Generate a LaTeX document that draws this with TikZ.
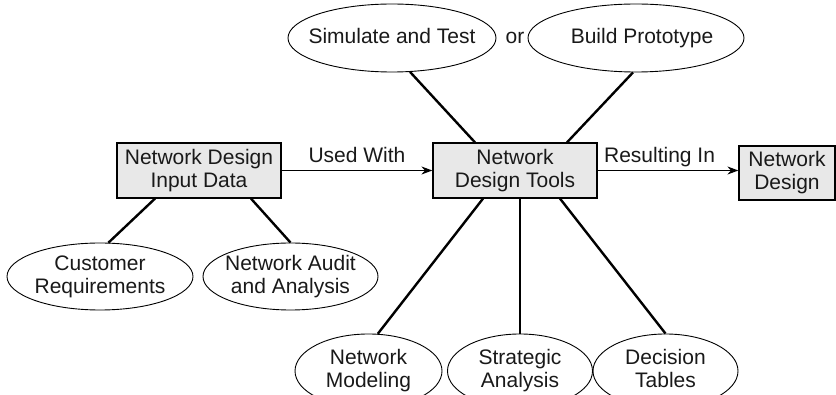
\documentclass[tikz,border=0pt]{standalone}
\usepackage{fontspec}
\setmainfont{Liberation Sans}
\usetikzlibrary{shapes.geometric,arrows.meta}
\begin{document}
\begin{tikzpicture}[x=1pt,y=-1pt,
  every node/.style={font=\fontsize{21}{23}\selectfont, text=black!90},
  box/.style={draw, line width=1.2pt, fill=gray!18, inner sep=0pt, align=center},
  oval/.style={draw, ellipse, line width=0.9pt, inner sep=0pt},
  txt/.style={align=center, text depth=4.5pt},
  link/.style={line width=2.4pt},
  flow/.style={line width=1.4pt, -{Stealth[length=11pt,width=8pt]}},
  lbl/.style={anchor=base, yshift=8pt, inner sep=0pt}]
\useasboundingbox (0,0) rectangle (836,395);

% boxes
\node[box, minimum width=164pt, minimum height=55pt] (inp) at (199,170.5) {Network Design\\Input Data};
\node[box, minimum width=164pt, minimum height=55pt] (tools) at (515,170.5) {Network\\Design Tools};
\node[box, minimum width=96pt, minimum height=54pt] (net) at (787,173) {Network\\Design};

% top ellipses
\node[oval, minimum width=208pt, minimum height=68pt, label={[txt]center:Simulate and Test}] (sim) at (392,38) {};
\node (or) at (515,38) {or};
\node[oval, minimum width=216pt, minimum height=68pt, label={[txt, xshift=6pt]center:Build Prototype}] (proto) at (636,38) {};

% left ellipses
\node[oval, minimum width=186pt, minimum height=67pt, label={[txt]center:Customer\\Requirements}] (cust) at (100,276.5) {};
\node[oval, minimum width=175pt, minimum height=67pt, label={[txt]center:Network Audit\\and Analysis}] (audit) at (290.5,276.5) {};

% bottom ellipses (cut by the lower edge)
\node[oval, minimum width=147pt, minimum height=74pt, label={[txt]center:Network\\Modeling}] (model) at (368.5,371) {};
\node[oval, minimum width=145pt, minimum height=74pt, label={[txt]center:Strategic\\Analysis}] (strat) at (520,371) {};
\node[oval, minimum width=145pt, minimum height=74pt, label={[txt]center:Decision\\Tables}] (dec) at (665.5,371) {};

% arrows
\draw[flow] (inp.east) -- (tools.west) node[lbl, pos=.5] (uw) {Used With};
\draw[flow] (tools.east) -- (tools.east -| net.west) node[lbl, pos=.44] (ri) {Resulting In};

% links
\draw[link] (sim.-62) -- ([xshift=-40pt]tools.north);
\draw[link] (proto.-95) -- ([xshift=52pt]tools.north);
\draw[link] ([xshift=-44pt]inp.south) -- (cust.76.6);
\draw[link] ([xshift=52pt]inp.south) -- (audit.north);
\draw[link] ([xshift=-32pt]tools.south) -- (model.76.7);
\draw[link] (strat.north |- tools.south) -- (strat.north);
\draw[link] ([xshift=45pt]tools.south) -- (dec.north);
\end{tikzpicture}
\end{document}
